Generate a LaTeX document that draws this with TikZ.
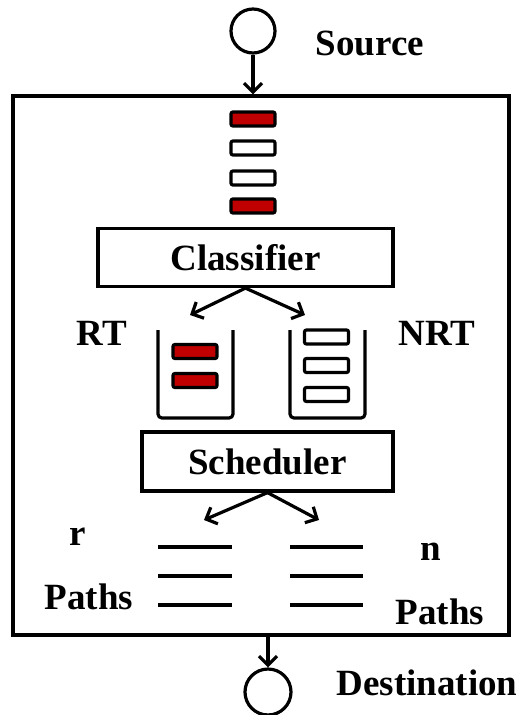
\documentclass[tikz,border=0pt]{standalone}
\usepackage{fontspec}
\setmainfont{Liberation Serif}
\usetikzlibrary{arrows.meta}
\definecolor{pktred}{HTML}{C00000}
\begin{document}
\begin{tikzpicture}[x=1pt,y=-1pt,
  lw/.style={line width=3.2pt},
  lbl/.style={inner sep=0pt,font=\fontsize{37}{37}\selectfont\bfseries},
  pkt/.style={draw,lw,rounded corners=2pt,minimum width=44pt,minimum height=14pt,inner sep=0pt,fill=#1},
  pkt/.default=white,
  boxnode/.style={draw,lw,inner sep=0pt,font=\fontsize{37}{37}\selectfont\bfseries},
  arr/.style={lw,-{Straight Barb[length=9pt,width=18pt,line width=3.2pt]}},
  circ/.style={draw,lw,circle,minimum size=44pt,inner sep=0pt}]
\useasboundingbox (0,0) rectangle (519,715);
% outer box
\node[draw,lw,minimum width=496pt,minimum height=539pt,inner sep=0pt] (outer) at (261,365.5) {};
% source
\node[circ] (src) at (253,31) {};
\node[lbl] (srclbl) at (370,43) {Source};
\draw[arr] (src.south) -- (src.south |- outer.north);
% packets
\node[pkt=pktred] (p1) at (253,119) {};
\node[pkt] (p2) at (253,148) {};
\node[pkt] (p3) at (253,178) {};
\node[pkt=pktred] (p4) at (253,206) {};
% classifier
\node[boxnode,minimum width=295pt,minimum height=58pt] (cls) at (245.5,257.5) {Classifier};
\coordinate (c1) at (190,315);
\coordinate (c2) at (305,315);
\draw[arr] (cls.south) -- (c1);
\draw[arr] (cls.south) -- (c2);
\node[lbl] (rt) at (102,333) {RT};
\node[lbl] (nrt) at (437,333) {NRT};
% bins
\draw[lw,rounded corners=4pt] (158,330) -- (158,418) -- (233,418) -- (233,330);
\draw[lw,rounded corners=4pt] (290,330) -- (290,418) -- (365,418) -- (365,330);
\node[pkt=pktred] (r1) at (195,351.5) {};
\node[pkt=pktred] (r2) at (195,380.5) {};
\node[pkt] (n1) at (326.5,337) {};
\node[pkt] (n2) at (326.5,365.5) {};
\node[pkt] (n3) at (326.5,394.5) {};
% scheduler
\node[boxnode,minimum width=251pt,minimum height=59pt] (sch) at (267.5,461.5) {Scheduler};
\coordinate (s1) at (204,520);
\coordinate (s2) at (319,520);
\draw[arr] (sch.south) -- (s1);
\draw[arr] (sch.south) -- (s2);
% paths
\foreach \y in {547,576,605}{
  \draw[lw] (158,\y) -- (232,\y);
  \draw[lw] (290,\y) -- (363,\y);
}
\node[lbl] (r) at (78,537) {r};
\node[lbl] (lp) at (89,597) {Paths};
\node[lbl] (n) at (431,552) {n};
\node[lbl] (rp) at (440,612) {Paths};
% destination
\node[circ,minimum size=46pt] (dst) at (268,692) {};
\draw[arr] (dst.north |- outer.south) -- (dst.north);
\node[lbl] (dlbl) at (427,683) {Destination};
\end{tikzpicture}
\end{document}
